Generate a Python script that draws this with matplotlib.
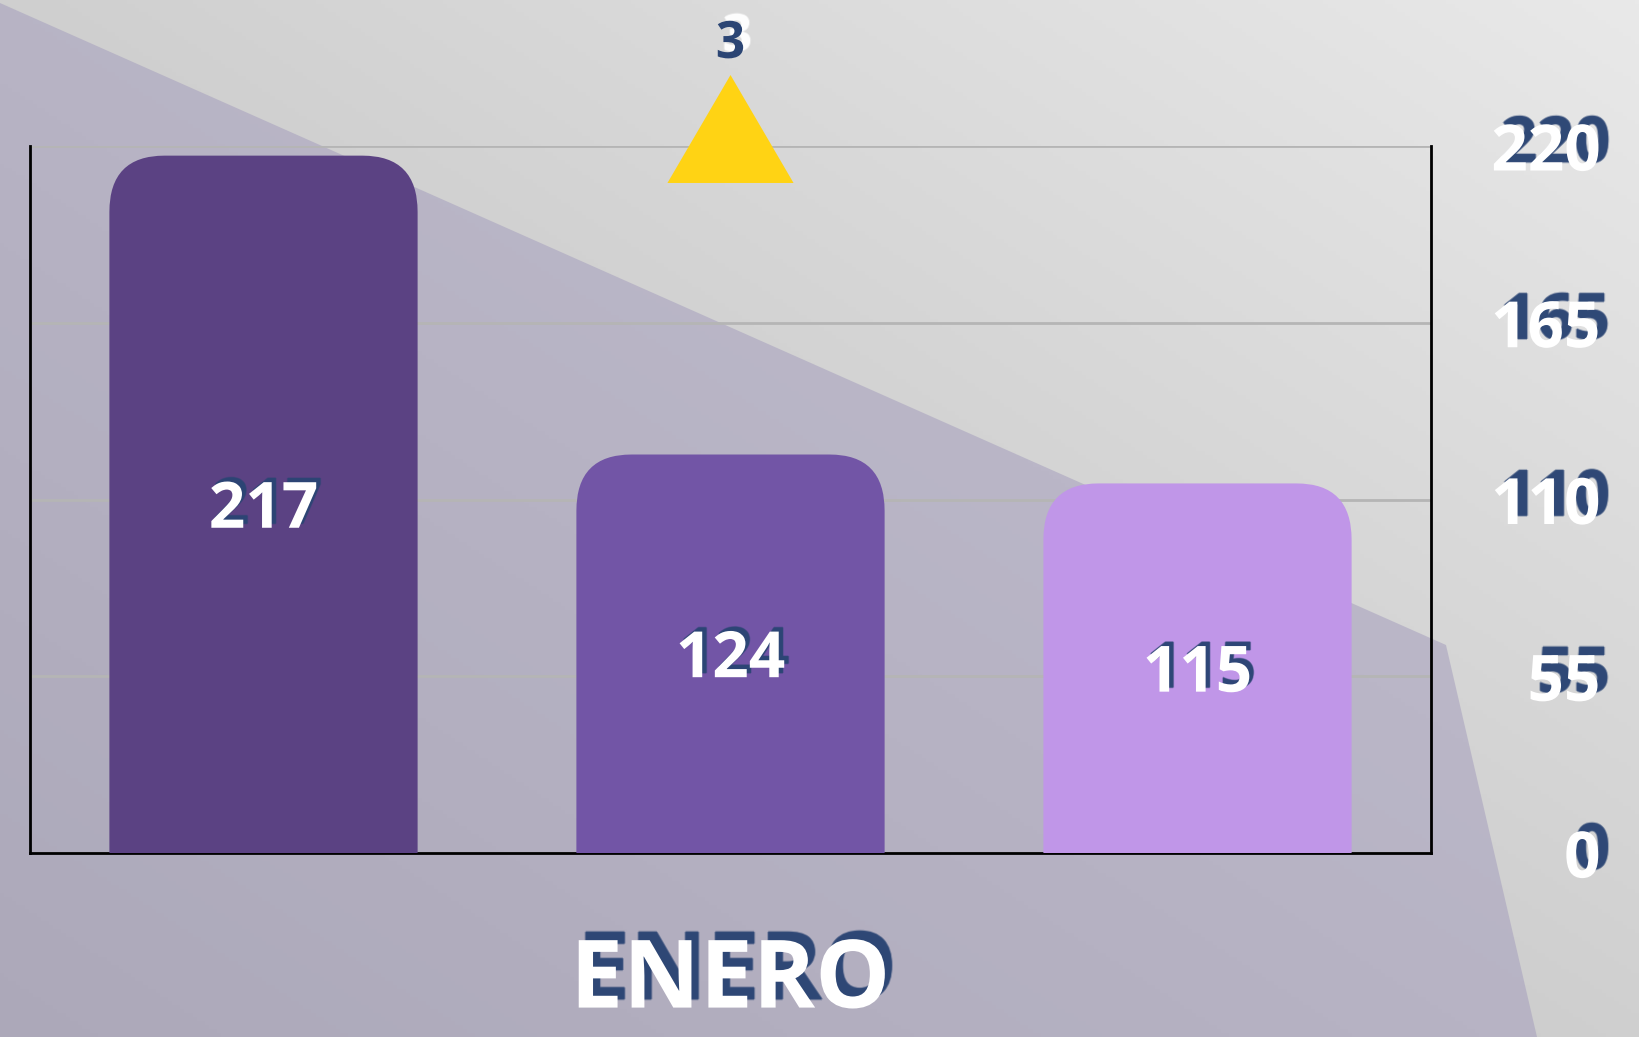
import numpy as np
import matplotlib
matplotlib.use("Agg")
import matplotlib.pyplot as plt
from matplotlib.patches import FancyBboxPatch, Polygon
import matplotlib.patheffects as pe

# ---- data ----
category = ["ENERO"]
series_values = [217, 124, 115]
series_colors = ["#5B4283", "#7255A6", "#C096E8"]
y_ticks = [0, 55, 110, 165, 220]
marker_value = "3"

NAVY = "#2B4574"
FONT = ["Open Sans", "DejaVu Sans"]
plt.rcParams['font.family'] = FONT


def soft_shadow(dx, dy, color, spread=0.8):
    effs = []
    for ox, oy in [(-spread, 0), (spread, 0), (0, -spread), (0, spread)]:
        effs.append(pe.SimplePatchShadow(offset=(dx + ox, dy + oy), shadow_rgbFace=color, alpha=0.35))
    effs.append(pe.SimplePatchShadow(offset=(dx, dy), shadow_rgbFace=color, alpha=0.85))
    effs.append(pe.Normal())
    return effs


W, H = 1639, 1037
fig = plt.figure(figsize=(W / 100, H / 100), dpi=100)

# background gradient
bg_ax = fig.add_axes([0, 0, 1, 1], zorder=-10)
xs = np.linspace(0, 1, 400)
ys = np.linspace(0, 1, 260)
X, Y = np.meshgrid(xs, ys)
G = (207 + 26 * X - 25.5 * Y) / 255.0
img = np.dstack([G, G, G])
bg_ax.imshow(img, extent=[0, 1, 0, 1], origin="upper", aspect="auto")
bg_ax.set_xlim(0, 1); bg_ax.set_ylim(0, 1)
bg_ax.axis("off")

# translucent purple shape
poly = Polygon([(0, 1 - 3 / H), (1446 / W, 1 - 645 / H), (1537 / W, 0), (0, 0)],
               closed=True, transform=bg_ax.transAxes,
               facecolor=(165 / 255, 158 / 255, 189 / 255), alpha=0.55, edgecolor="none")
bg_ax.add_patch(poly)

# main axes
ax = fig.add_axes([30 / W, 1 - 853 / H, 1401 / W, 707 / H])
ax.set_facecolor("none")
n = len(series_values)
x = np.arange(n)
ax.set_xlim(-0.5, n - 0.5)
ax.set_ylim(0, 220)
bw = 0.66
bars = ax.bar(x, series_values, width=bw, color=series_colors, zorder=3)

# replace with rounded-top bars
rx = 0.118
ry = 17.5
for b, c in zip(bars, series_colors):
    b.set_visible(False)
    bx, bh = b.get_x(), b.get_height()
    fb = FancyBboxPatch((bx, -ry), b.get_width(), bh + ry,
                        boxstyle=f"round,pad=0,rounding_size={rx}",
                        mutation_aspect=ry / rx, facecolor=c, edgecolor="none",
                        zorder=3, clip_on=True)
    ax.add_patch(fb)

ax.set_yticks(y_ticks)
ax.yaxis.grid(True, color="#B5B5B5", linewidth=2, zorder=1)
ax.set_axisbelow(True)
ax.yaxis.tick_right()
ax.tick_params(axis="y", length=0, pad=122)
ax.set_yticklabels([str(v) for v in y_ticks])
for lab in ax.get_yticklabels():
    lab.set_horizontalalignment("right")
    lab.set_fontsize(46)
    lab.set_fontweight("bold")
    lab.set_color("white")
    lab.set_path_effects(soft_shadow(7, 6, NAVY))

ax.set_xticks([])
for s in ["left", "bottom", "right"]:
    ax.spines[s].set_color("black")
    ax.spines[s].set_linewidth(2)
ax.spines["top"].set_visible(False)

# bar labels
for xi, v in zip(x, series_values):
    ax.annotate(str(v), (xi, v / 2), xytext=(0, -5), textcoords="offset points",
                ha="center", va="center", fontsize=46,
                fontweight="bold", color="white", zorder=5,
                path_effects=soft_shadow(3, 3, NAVY, 0.6))

# category label
ax.text(0.5 * (n - 1), -0.184, category[0], transform=ax.get_xaxis_transform(),
        ha="center", va="center", fontsize=68, fontweight="bold", color="white",
        path_effects=soft_shadow(5, 6, NAVY))

# triangle marker + value
tr = ax.get_xaxis_transform()
cx = 0.5 * (n - 1)
tri = Polygon([(cx - 0.135, 0.9477), (cx + 0.135, 0.9477), (cx, 1.1004)], closed=True,
              transform=tr, facecolor="#FFD314", edgecolor="none", clip_on=False, zorder=4)
ax.add_patch(tri)
ax.text(cx, 1.143, marker_value, transform=tr, ha="center", va="center",
        fontsize=37, fontweight="bold", color=NAVY,
        path_effects=soft_shadow(5, 5, "white"))

fig.savefig("out.png", dpi=100)
